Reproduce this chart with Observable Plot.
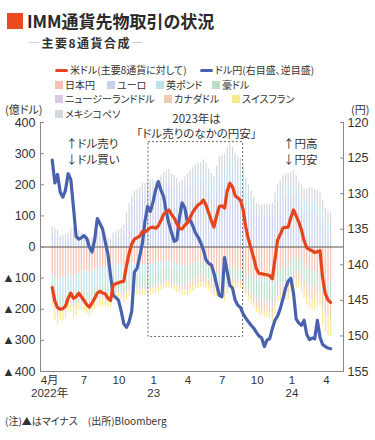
<!DOCTYPE html>
<html><head><meta charset="utf-8">
<script src="https://cdn.jsdelivr.net/npm/d3@7"></script>
<script src="https://cdn.jsdelivr.net/npm/@observablehq/plot@0.6"></script>
<style>
body{margin:0;background:#fff;font-family:"Liberation Sans",Arial,"Noto Sans CJK JP",sans-serif;color:#333;}
#wrap{position:relative;width:375px;height:440px;overflow:hidden;background:#fff;}
.abs{position:absolute;white-space:nowrap;}
.lg{font-family:"Noto Sans CJK JP",sans-serif;font-size:10px;line-height:12px;color:#333;font-feature-settings:"palt";}
.sq{position:absolute;width:8px;height:8px;}
svg text{font-feature-settings:"palt";}
</style></head><body>
<div id="wrap">
<div id="chart" class="abs" style="left:0;top:0"></div>
<div class="abs" style="left:7px;top:13px;width:16px;height:16px;background:#ec4b1e"></div>
<div class="abs" style="left:27px;top:10px;font-family:'Noto Sans CJK JP',sans-serif;font-weight:700;font-size:17px;line-height:22px;color:#2a2a2a;font-feature-settings:'palt'">IMM通貨先物取引の状況</div>
<div class="abs" style="left:28px;top:35px;font-family:'Noto Sans CJK JP',sans-serif;font-weight:700;font-size:12px;line-height:16px;color:#333;letter-spacing:1.5px"><span style="color:#aaa">―</span>主要8通貨合成<span style="color:#aaa">―</span></div>
<div id="legend"></div>
<div class="abs lg" style="left:5px;top:103px;font-size:11px">(億ドル)</div>
<div class="abs lg" style="left:351px;top:103px;font-size:11px">(円)</div>
<div class="abs lg" style="left:5px;top:415px;font-size:10px">(注)▲はマイナス　(出所)Bloomberg</div>
</div>
<script>
// ---- data ----
const dates = [
"2022-04-08","2022-04-15","2022-04-22","2022-04-29","2022-05-06","2022-05-13","2022-05-20","2022-05-27","2022-06-03","2022-06-10",
"2022-06-17","2022-06-24","2022-07-01","2022-07-08","2022-07-15","2022-07-22","2022-07-29","2022-08-05","2022-08-12","2022-08-19",
"2022-08-26","2022-09-02","2022-09-09","2022-09-16","2022-09-23","2022-09-30","2022-10-07","2022-10-14","2022-10-21","2022-10-28",
"2022-11-04","2022-11-11","2022-11-18","2022-11-25","2022-12-02","2022-12-09","2022-12-16","2022-12-23","2022-12-30","2023-01-06",
"2023-01-13","2023-01-20","2023-01-27","2023-02-03","2023-02-10","2023-02-17","2023-02-24","2023-03-03","2023-03-10","2023-03-17",
"2023-03-24","2023-03-31","2023-04-07","2023-04-14","2023-04-21","2023-04-28","2023-05-05","2023-05-12","2023-05-19","2023-05-26",
"2023-06-02","2023-06-09","2023-06-16","2023-06-23","2023-06-30","2023-07-07","2023-07-14","2023-07-21","2023-07-28","2023-08-04",
"2023-08-11","2023-08-18","2023-08-25","2023-09-01","2023-09-08","2023-09-15","2023-09-22","2023-09-29","2023-10-06","2023-10-13",
"2023-10-20","2023-10-27","2023-11-03","2023-11-10","2023-11-17","2023-11-24","2023-12-01","2023-12-08","2023-12-15","2023-12-22",
"2023-12-29","2024-01-05","2024-01-12","2024-01-19","2024-01-26","2024-02-02","2024-02-09","2024-02-16","2024-02-23","2024-03-01",
"2024-03-08","2024-03-15","2024-03-22","2024-03-29","2024-04-05","2024-04-12"];

const currencies = ["日本円","ユーロ","英ポンド","豪ドル","ニュージーランドドル","カナダドル","スイスフラン","メキシコペソ"];
const currencyColors = ["#f6c0b2","#c8d1ea","#bde3ea","#b8dec8","#dccae4","#efccb4","#f7ea8c","#d3d8df"];

const jpy = [-90,-100,-105,-100,-98,-95,-88,-85,-90,-88,-82,-80,-78,-80,-82,-78,-72,-68,-65,-66,-65,-66,-66,-55,-56,-58,-60,-62,-58,-55,-54,-55,-56,-57,-58,-60,-58,-56,-54,-52,-50,-48,-46,-45,-44,-48,-52,-56,-60,-62,-60,-58,-56,-52,-50,-48,-50,-52,-58,-65,-73,-82,-84,-88,-92,-100,-82,-70,-68,-72,-70,-72,-75,-82,-90,-94,-98,-102,-105,-104,-105,-106,-108,-114,-100,-80,-75,-68,-66,-62,-45,-35,-38,-40,-50,-60,-72,-78,-80,-80,-72,-62,-98,-108,-112,-114];
const eur = [40,36,32,15,18,20,25,38,40,38,33,22,12,8,6,8,12,20,22,20,16,8,4,22,27,32,36,45,83,112,135,150,154,158,172,172,176,180,180,174,178,192,201,205,209,194,189,180,172,177,185,193,200,205,208,210,208,214,200,182,165,152,182,205,205,205,215,222,210,196,192,190,172,145,135,125,114,101,97,98,100,101,100,102,132,148,158,168,170,168,170,172,158,140,130,115,112,115,113,107,100,93,72,52,45,42];
const gbp = [-45,-55,-60,-58,-60,-62,-55,-55,-62,-60,-55,-58,-60,-62,-64,-62,-60,-58,-58,-60,-60,-62,-63,-52,-52,-52,-52,-55,-52,-48,-45,-42,-40,-38,-36,-35,-34,-33,-32,-31,-30,-26,-24,-22,-20,-20,-20,-20,-18,-16,-12,-8,3,8,12,16,20,24,26,26,28,30,35,42,46,50,60,68,65,60,55,52,46,35,25,15,6,-3,-6,-8,-10,-11,-12,-14,3,10,15,20,23,25,28,31,30,28,28,28,30,32,34,35,36,38,34,30,28,26];
const aud = [-25,-30,-32,-30,-32,-30,-28,-27,-30,-30,-28,-30,-32,-34,-35,-32,-30,-30,-30,-30,-30,-32,-33,-30,-30,-30,-30,-32,-31,-30,-30,-32,-33,-34,-35,-36,-37,-38,-39,-40,-40,-40,-39,-40,-41,-41,-42,-43,-45,-47,-48,-50,-50,-48,-46,-45,-42,-40,-38,-38,-40,-42,-42,-40,-40,-42,-38,-32,-31,-33,-33,-34,-36,-42,-48,-50,-52,-55,-56,-56,-56,-56,-57,-58,-55,-48,-48,-48,-50,-50,-44,-38,-38,-36,-38,-42,-45,-46,-46,-45,-42,-40,-45,-48,-50,-50];
const nzd = [-8,-10,-10,-9,-8,-8,-7,-7,-8,-8,-7,-8,-8,-9,-9,-8,-8,-8,-8,-8,-8,-8,-8,-7,-7,-7,-7,-8,-7,-7,-6,-6,-6,-6,-6,-6,-6,-6,-6,-6,-5,-5,-5,-5,-5,-5,-5,-5,-5,-5,-5,-5,-5,-5,-4,-4,-3,-3,-3,-3,-3,-3,-3,-2,-2,-2,-2,-1,-1,-2,-2,-2,-2,-4,-6,-7,-8,-9,-9,-9,-9,-9,-9,-9,-8,-6,-6,-6,-6,-6,-5,-4,-4,-4,-4,-5,-5,-5,-5,-5,-5,-5,-6,-7,-7,-7];
const cad = [-6,-10,-13,-10,-8,-7,-6,-8,-9,-8,-6,-4,-5,-6,-7,-6,-6,-5,-5,-5,-4,-4,-4,-3,-3,-3,-3,-3,-3,-2,-2,-2,-2,-2,-2,-2,-2,-2,-2,-3,-4,-4,-4,-4,-4,-4,-4,-4,-5,-8,-13,-19,-22,-22,-21,-20,-19,-18,-18,-18,-18,-18,-16,-15,-14,-16,-14,-13,-13,-14,-13,-13,-13,-14,-16,-18,-20,-23,-26,-26,-27,-27,-26,-28,-30,-26,-27,-28,-30,-32,-30,-28,-28,-27,-28,-30,-34,-35,-36,-37,-38,-40,-50,-55,-56,-56];
const chf = [-20,-30,-30,-28,-30,-28,-26,-26,-28,-26,-25,-25,-24,-24,-24,-24,-24,-24,-24,-24,-23,-23,-23,-20,-20,-20,-20,-20,-19,-18,-18,-18,-18,-18,-18,-18,-18,-18,-18,-18,-18,-17,-17,-17,-17,-17,-17,-17,-17,-17,-17,-17,-17,-16,-16,-16,-16,-16,-16,-16,-16,-16,-15,-15,-15,-15,-14,-14,-14,-14,-14,-14,-14,-14,-15,-16,-17,-18,-18,-18,-18,-18,-18,-19,-22,-18,-19,-19,-20,-21,-21,-21,-22,-23,-25,-28,-32,-34,-35,-36,-38,-40,-51,-57,-60,-61];
const mxn = [24,24,23,20,20,20,20,22,22,22,22,23,23,22,22,22,23,25,26,25,24,22,21,23,23,23,24,25,27,28,30,30,31,32,33,33,34,35,35,36,37,38,39,40,41,41,41,40,38,38,40,42,42,42,42,42,42,42,42,42,42,43,43,43,44,45,45,45,45,44,43,43,42,40,40,40,40,39,38,37,37,37,38,38,40,42,42,42,42,42,42,42,42,42,42,42,43,43,43,43,44,44,44,43,42,42];

// 米ドル（主要8通貨に対して）, 億ドル
const usd = [-130,-175,-195,-200,-198,-190,-165,-148,-165,-160,-148,-160,-172,-185,-193,-180,-165,-148,-142,-148,-150,-165,-172,-122,-118,-115,-112,-110,-60,-20,10,25,30,35,50,48,55,62,64,60,68,85,105,112,119,105,93,75,60,58,70,78,95,112,125,135,140,151,135,110,85,64,100,130,132,125,180,205,193,165,158,150,120,64,25,-5,-35,-70,-85,-86,-88,-89,-92,-102,-40,22,40,61,63,64,95,119,100,80,55,20,-3,-8,-12,-18,-15,-12,-100,-150,-170,-178];
// ドル円（右目盛、逆目盛）, 円
const usdjpy = [125.3,128.5,127.3,129.8,130.5,129.5,127.2,128.0,131.9,136.0,136.4,136.2,135.9,136.3,137.5,138.2,136.5,133.5,134.2,135.0,136.8,138.5,141.5,144.3,144.6,145.0,146.5,148.3,148.8,148.0,146.5,141.0,140.5,138.8,137.0,133.8,131.8,132.5,131.2,129.5,128.3,129.5,130.4,132.5,134.2,135.5,136.7,136.5,133.3,131.3,132.0,134.0,133.7,134.5,135.5,136.1,136.9,137.9,139.3,139.8,140.0,141.2,142.8,144.3,144.5,139.0,141.0,142.9,143.3,145.0,145.7,146.0,146.9,147.5,148.0,148.5,148.9,149.5,150.0,150.3,151.5,150.6,150.4,149.0,147.8,147.2,146.2,144.8,143.3,142.3,141.9,144.0,147.6,148.2,148.5,147.8,149.8,150.5,150.3,150.4,147.8,150.2,151.2,151.5,151.7,151.8];

const leftTicks = [400,300,200,100,0,-100,-200,-300,-400];
const rightTicks = [120,125,130,135,140,145,150,155];
const xTickDates = ["2022-04-01","2022-07-01","2022-10-01","2023-01-01","2023-04-01","2023-07-01","2023-10-01","2024-01-01","2024-04-01"];
const xTickLabels = ["4月\n2022年","7","10","1\n23","4","7","10","1\n24","4"];

// ---- scales / helpers ----
const xDomain = [new Date("2022-03-08"), new Date("2024-05-16")];
const yDomain = [-400, 400];
const yenTop = 120, yenBottom = 155;
const yenToLeft = v => yDomain[1] - (v - yenTop) * (yDomain[1] - yDomain[0]) / (yenBottom - yenTop);

const parse = s => new Date(s);
const bars = [];
const seriesList = [jpy, eur, gbp, aud, nzd, cad, chf, mxn];
currencies.forEach((c, k) => seriesList[k].forEach((v, i) => bars.push({date: parse(dates[i]), cur: c, value: v})));
const usdData = usd.map((v, i) => ({date: parse(dates[i]), v}));
const jpyData = usdjpy.map((v, i) => ({date: parse(dates[i]), v}));

const xTicks = xTickDates.map(parse);
const xLabelMap = new Map(xTicks.map((d, i) => [+d, xTickLabels[i]]));
const rightPos = rightTicks.map(yenToLeft);
const rightLabelMap = new Map(rightPos.map((p, i) => [p, String(rightTicks[i])]));

const box = [{x1: parse("2022-12-18"), x2: parse("2023-08-25"), y1: -289, y2: 337}];
const sideNotes = [
  {x: parse("2022-05-14"), y: 330, t: "↑ドル売り"},
  {x: parse("2022-05-14"), y: 278, t: "↓ドル買い"},
  {x: parse("2023-12-08"), y: 330, t: "↑円高"},
  {x: parse("2023-12-08"), y: 278, t: "↓円安"}
];
const centerNotes = [
  {x: parse("2023-04-24"), y: 411, t: "2023年は"},
  {x: parse("2023-04-24"), y: 362, t: "「ドル売りのなかの円安」"}
];

const jp = "'Liberation Sans', Arial, 'Noto Sans CJK JP', sans-serif";
const chart = Plot.plot({
  width: 375, height: 440,
  marginTop: 122, marginBottom: 69, marginLeft: 40, marginRight: 32,
  style: {fontFamily: jp, fontSize: "12px", color: "#333", background: "transparent", overflow: "visible"},
  x: {type: "utc", domain: xDomain, label: null},
  y: {domain: yDomain, label: null},
  color: {domain: currencies, range: currencyColors},
  marks: [
    Plot.ruleX(bars, Plot.stackY({x: "date", y: "value", stroke: "cur", strokeWidth: 1.2})),
    Plot.ruleY([0], {stroke: "#555", strokeWidth: 1}),
    Plot.rect(box, {x1: "x1", x2: "x2", y1: "y1", y2: "y2", fill: "none", stroke: "#666", strokeWidth: 1, strokeDasharray: "2,2"}),
    Plot.line(jpyData, {x: "date", y: d => yenToLeft(d.v), stroke: "#4a62ad", strokeWidth: 3.2, strokeLinejoin: "round"}),
    Plot.line(usdData, {x: "date", y: "v", stroke: "#e8441c", strokeWidth: 3.2, strokeLinejoin: "round"}),
    Plot.ruleX([xDomain[0]], {stroke: "#888"}),
    Plot.ruleX([xDomain[1]], {stroke: "#888"}),
    Plot.ruleY([yDomain[0]], {stroke: "#888"}),
    Plot.axisY(leftTicks, {anchor: "left", tickSize: -4, tickPadding: 9, stroke: "#888", fontSize: 12.5, tickFormat: d => d < 0 ? "▲" + (-d) : String(d), label: null}),
    Plot.axisY(rightPos, {anchor: "right", tickSize: -4, tickPadding: 8, stroke: "#888", fontSize: 12.5, tickFormat: d => rightLabelMap.get(d), label: null}),
    Plot.axisX(xTicks, {anchor: "bottom", tickSize: 0, tickPadding: 4, fontSize: 11.5, lineHeight: 1.1, tickFormat: d => xLabelMap.get(+d), label: null}),
    Plot.text(sideNotes, {x: "x", y: "y", text: "t", textAnchor: "start", fontSize: 11.5, fill: "#333", fontFamily: "'Noto Sans CJK JP', sans-serif"}),
    Plot.text(centerNotes, {x: "x", y: "y", text: "t", textAnchor: "middle", fontSize: 11.5, fill: "#333", fontFamily: "'Noto Sans CJK JP', sans-serif"})
  ]
});
document.getElementById("chart").appendChild(chart);

// ---- legend ----
const legend = document.getElementById("legend");
function addLine(left, top, color, text) {
  legend.insertAdjacentHTML("beforeend",
    `<div class="abs" style="left:${left}px;top:${top}px;width:13px;height:3.5px;background:${color};border-radius:2px"></div>` +
    `<div class="abs lg" style="left:${left + 15}px;top:${top - 4.5}px">${text}</div>`);
}
function addSq(left, top, k) {
  legend.insertAdjacentHTML("beforeend",
    `<div class="sq" style="left:${left}px;top:${top}px;background:${currencyColors[k]}"></div>` +
    `<div class="abs lg" style="left:${left + 10}px;top:${top - 2}px">${currencies[k]}</div>`);
}
addLine(55, 68.5, "#e8441c", "米ドル(主要8通貨に対して)");
addLine(200, 68.5, "#4a62ad", "ドル円(右目盛、逆目盛)");
addSq(55, 80.5, 0); addSq(107, 80.5, 1); addSq(156, 80.5, 2); addSq(212, 80.5, 3);
addSq(55, 95, 4); addSq(164, 95, 5); addSq(232, 95, 6);
addSq(55, 109.5, 7);
</script>
</body></html>
